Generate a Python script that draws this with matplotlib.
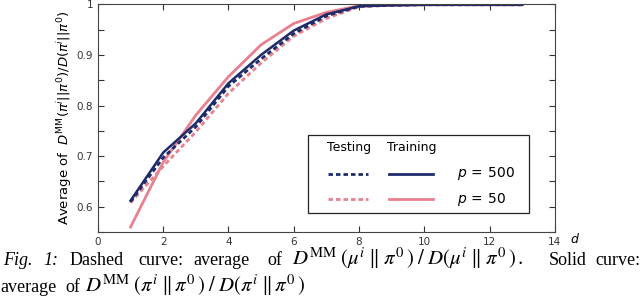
import matplotlib.pyplot as plt

# === DONNEES ===
d = [1, 2, 3, 4, 5, 6, 7, 8, 9, 10, 11, 12, 13]
test_500 = [0.610, 0.697, 0.758, 0.838, 0.892, 0.942, 0.977, 0.996, 0.998, 0.999, 0.999, 0.999, 0.999]
train_500 = [0.612, 0.707, 0.765, 0.844, 0.900, 0.948, 0.980, 0.996, 0.998, 0.999, 0.999, 0.999, 0.999]
test_50 = [0.608, 0.680, 0.748, 0.824, 0.884, 0.937, 0.972, 0.995, 0.998, 0.999, 0.999, 0.999, 0.999]
train_50 = [0.560, 0.688, 0.781, 0.857, 0.920, 0.962, 0.984, 0.997, 0.998, 0.999, 0.999, 0.999, 0.999]

xticks = [0, 2, 4, 6, 8, 10, 12, 14]
yticks = [0.6, 0.7, 0.8, 0.9, 1.0]
yticklabels = ["0.6", "0.7", "0.8", "0.9", "1"]

navy = "#1f2a6b"
pink = "#e8808f"
dash = (0, (1.6, 1.1))

# === FIGURE ===
fig = plt.figure(figsize=(6.4, 3.03), dpi=100)
ax = fig.add_axes([0.153, 0.234, 0.714, 0.752])

ax.plot(d, test_50, color=pink, lw=2.0, ls=dash)
ax.plot(d, train_50, color=pink, lw=2.0)
ax.plot(d, test_500, color=navy, lw=2.0, ls=dash)
ax.plot(d, train_500, color=navy, lw=1.8)

ax.set_xlim(0, 14)
ax.set_ylim(0.55, 1.0)
ax.set_xticks(xticks)
ax.set_yticks(yticks)
ax.set_yticklabels(yticklabels)
ax.set_yticks([0.55, 0.65, 0.75, 0.85, 0.95], minor=True)
ax.tick_params(which="both", direction="in", top=True, right=True,
               labelsize=7.5, colors="#333333", length=4, width=0.8)
for s in ax.spines.values():
    s.set_linewidth(0.8)
    s.set_color("#444444")

ax.set_ylabel(r"Average of  $D^{\mathrm{MM}}(\pi^i||\pi^0)/D(\pi^i||\pi^0)$",
              fontsize=9.5, labelpad=2)
ax.text(1.043, -0.03, r"$d$", transform=ax.transAxes, fontsize=9,
        ha="center", va="center")

# === LEGENDE ===
ax.add_patch(plt.Rectangle((0.46, 0.083), 0.483, 0.343, transform=ax.transAxes,
                           fill=False, lw=0.9, ec="#222222"))
ax.text(0.55, 0.37, "Testing", transform=ax.transAxes, fontsize=9, ha="center", va="center")
ax.text(0.687, 0.37, "Training", transform=ax.transAxes, fontsize=9, ha="center", va="center")
ax.plot([0.503, 0.59], [0.255, 0.255], transform=ax.transAxes, color=navy, lw=2.0, ls=dash)
ax.plot([0.503, 0.59], [0.145, 0.145], transform=ax.transAxes, color=pink, lw=2.0, ls=dash)
ax.plot([0.637, 0.733], [0.255, 0.255], transform=ax.transAxes, color=navy, lw=2.0)
ax.plot([0.637, 0.733], [0.145, 0.145], transform=ax.transAxes, color=pink, lw=2.0)
ax.text(0.786, 0.255, r"$p\,=\,500$", transform=ax.transAxes, fontsize=10, va="center")
ax.text(0.786, 0.145, r"$p\,=\,50$", transform=ax.transAxes, fontsize=10, va="center")

# === LEGENDE DE LA FIGURE ===
cap = dict(fontsize=13, family="Liberation Serif", math_fontfamily="stix", va="baseline")
capm = dict(fontsize=15, family="Liberation Serif", math_fontfamily="stix", va="baseline")
y1 = 1 - 265 / 303
y2 = 1 - 292 / 303
fig.text(3 / 640, y1, "Fig.", style="italic", **cap)
fig.text(43 / 640, y1, "1:", style="italic", **cap)
fig.text(70 / 640, y1, "Dashed", **cap)
fig.text(138 / 640, y1, "curve:", **cap)
fig.text(193 / 640, y1, "average", **cap)
fig.text(267 / 640, y1, "of", **cap)
fig.text(292 / 640, y1,
         r"$D^{\mathrm{MM}}\;(\mu^{i}\;\|\;\pi^{0}\,)\;/\;D(\mu^{i}\;\|\;\pi^{0}\,)\,.$",
         **capm)
fig.text(587 / 640, y1, "Solid", ha="right", **cap)
fig.text(640 / 640, y1, "curve:", ha="right", **cap)
fig.text(0, y2, "average", **cap)
fig.text(65 / 640, y2, "of", **cap)
fig.text(85 / 640, y2,
         r"$D^{\mathrm{MM}}\;(\pi^{i}\;\|\,\pi^{0}\,)\;/\;D(\pi^{i}\;\|\,\pi^{0}\,)$",
         **capm)

plt.savefig("out.png", dpi=100)
